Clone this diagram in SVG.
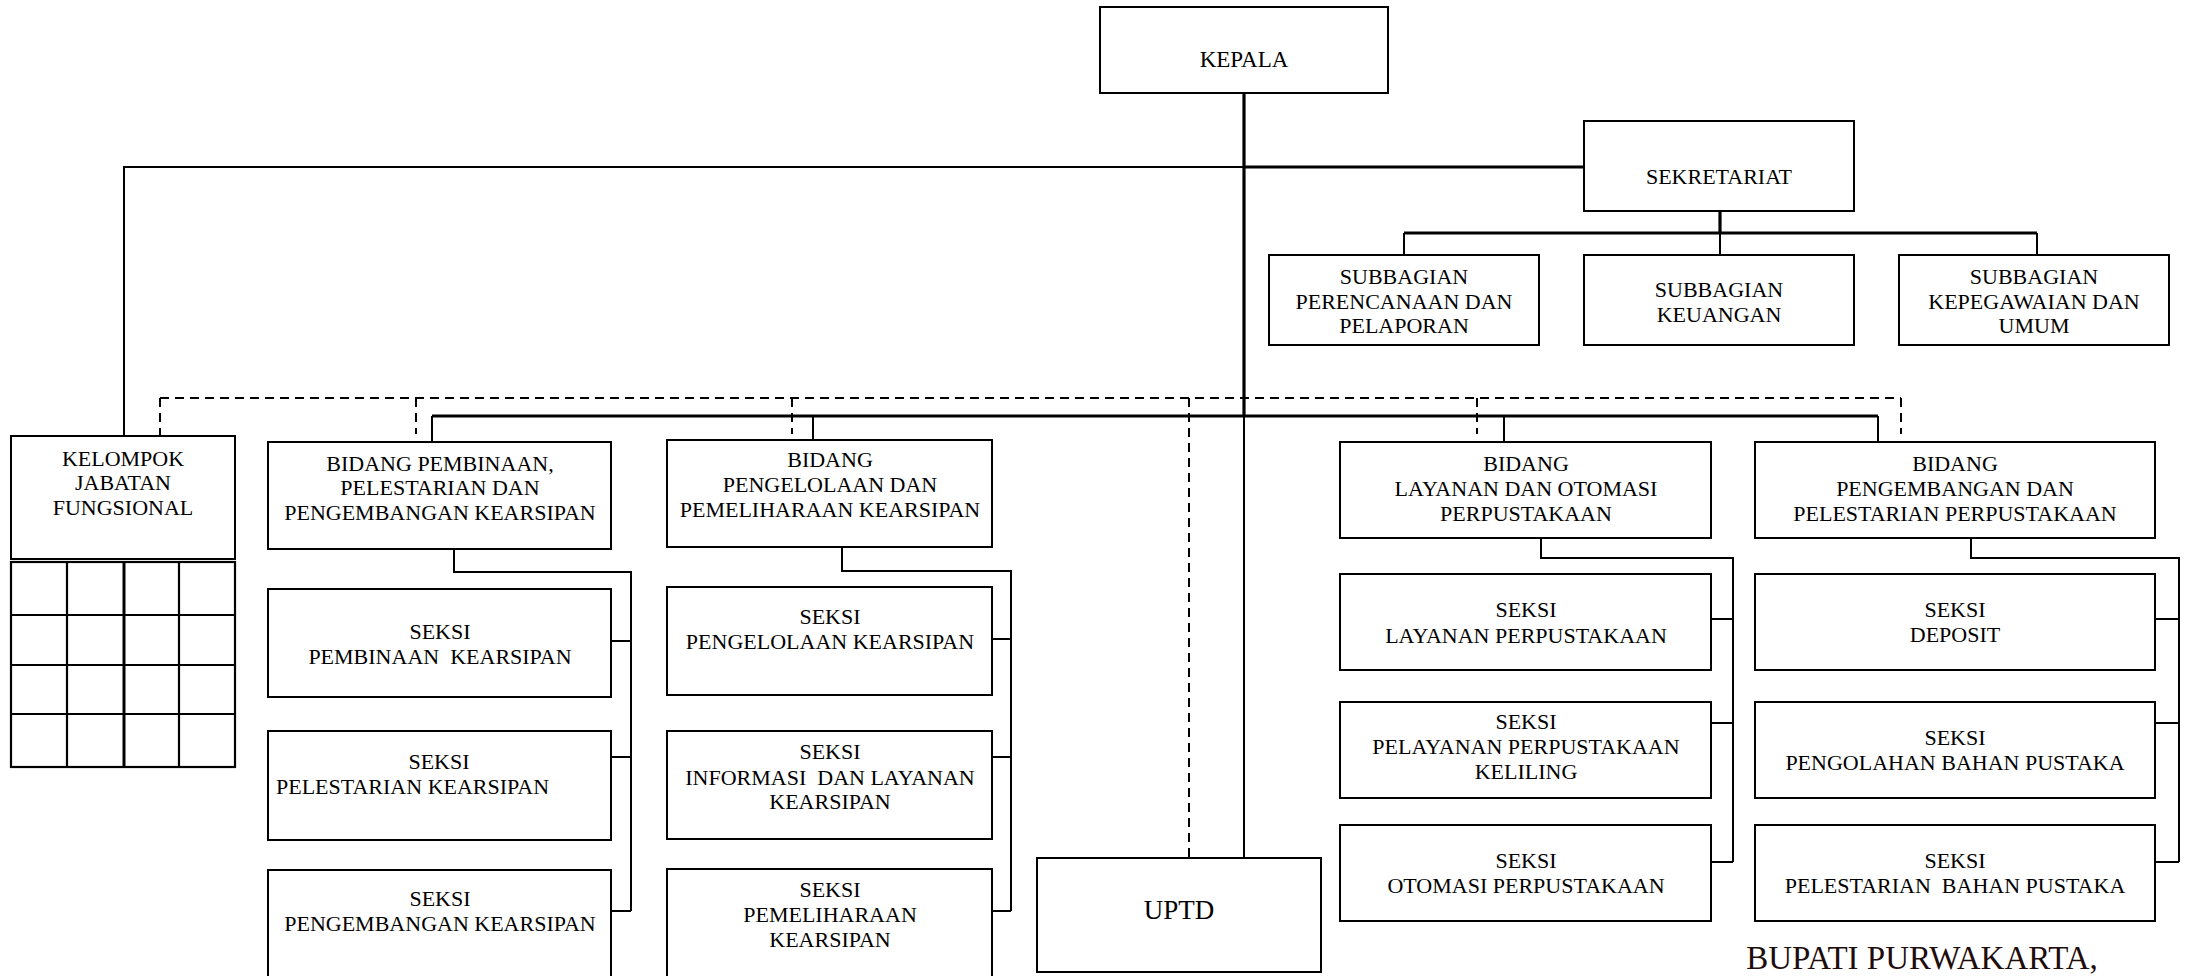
<svg xmlns="http://www.w3.org/2000/svg" width="2189" height="976" viewBox="0 0 2189 976">
<style>
  .box { fill: #ffffff; stroke: #000000; stroke-width: 2; }
  .t { font-family: "Liberation Serif", "Times New Roman", serif; font-size: 22px; fill: #000000; text-anchor: middle; }
  .ln { fill: none; stroke: #000000; stroke-width: 2; }
  .thick { fill: none; stroke: #000000; stroke-width: 3.2; }
  .dash { fill: none; stroke: #000000; stroke-width: 2; stroke-dasharray: 9 6; }
  .grid { fill: none; stroke: #000000; stroke-width: 2.2; }
</style>
<rect x="0" y="0" width="2189" height="976" fill="#ffffff"/>

<g id="connectors">
  <path class="dash" d="M160 398 H1901"/>
  <path class="dash" d="M160 398 V446"/>
  <path class="dash" d="M416 398 V434"/>
  <path class="dash" d="M792 398 V434"/>
  <path class="dash" d="M1189 398 V872"/>
  <path class="dash" d="M1477 398 V434"/>
  <path class="dash" d="M1901 398 V434"/>
  <path class="thick" d="M1244 94 V416"/>
  <path class="ln" d="M1244 416 V858"/>
  <path class="thick" d="M1244 167 H1584"/>
  <path class="ln" d="M124 436 V167 H1244"/>
  <path class="thick" d="M1720 211 V233"/>
  <path class="thick" d="M1404 233 H2037"/>
  <path class="ln" d="M1404 233 V255 M1720 233 V255 M2037 233 V255"/>
  <path class="thick" d="M432 416 H1878"/>
  <path class="ln" d="M432 416 V442 M813 416 V440 M1504 416 V442 M1878 416 V442"/>
  <path class="ln" d="M454 549 V572 H631 V911"/>
  <path class="ln" d="M611 641 H631 M611 757 H631 M611 911 H631"/>
  <path class="ln" d="M842 547 V571 H1011 V911"/>
  <path class="ln" d="M992 639 H1011 M992 757 H1011 M992 911 H1011"/>
  <path class="ln" d="M1541 538 V558 H1733 V862"/>
  <path class="ln" d="M1711 619 H1733 M1711 723 H1733 M1711 862 H1733"/>
  <path class="ln" d="M1971 538 V558 H2179 V862"/>
  <path class="ln" d="M2155 619 H2179 M2155 723 H2179 M2155 862 H2179"/>
</g>

<g id="kepala">
  <rect class="box" x="1100" y="7" width="288" height="86"/>
  <text class="t" x="1244" y="67" style="font-size:23px">KEPALA</text>
</g>

<g id="sekretariat">
  <rect class="box" x="1584" y="121" width="270" height="90"/>
  <text class="t" x="1719" y="184">SEKRETARIAT</text>
</g>

<g id="subbagian-perencanaan">
  <rect class="box" x="1269" y="255" width="270" height="90"/>
  <text class="t" x="1404" y="284">SUBBAGIAN</text>
  <text class="t" x="1404" y="309">PERENCANAAN DAN</text>
  <text class="t" x="1404" y="333">PELAPORAN</text>
</g>

<g id="subbagian-keuangan">
  <rect class="box" x="1584" y="255" width="270" height="90"/>
  <text class="t" x="1719" y="297">SUBBAGIAN</text>
  <text class="t" x="1719" y="322">KEUANGAN</text>
</g>

<g id="subbagian-kepegawaian">
  <rect class="box" x="1899" y="255" width="270" height="90"/>
  <text class="t" x="2034" y="284">SUBBAGIAN</text>
  <text class="t" x="2034" y="309">KEPEGAWAIAN DAN</text>
  <text class="t" x="2034" y="333">UMUM</text>
</g>

<g id="kelompok-jabatan-fungsional">
  <rect class="box" x="11" y="436" width="224" height="123"/>
  <text class="t" x="123" y="466">KELOMPOK</text>
  <text class="t" x="123" y="490">JABATAN</text>
  <text class="t" x="123" y="515">FUNGSIONAL</text>
  <rect class="grid" x="11" y="562" width="224" height="205"/>
  <path class="grid" d="M67 562 V767 M179 562 V767 M11 615 H235 M11 665 H235 M11 714 H235"/>
  <path fill="none" stroke="#000" stroke-width="3" d="M124 562 V767"/>
</g>

<g id="bidang-pembinaan">
  <rect class="box" x="268" y="442" width="343" height="107"/>
  <text class="t" x="440" y="471">BIDANG PEMBINAAN,</text>
  <text class="t" x="440" y="495">PELESTARIAN DAN</text>
  <text class="t" x="440" y="520">PENGEMBANGAN KEARSIPAN</text>
</g>
<g id="seksi-pembinaan-kearsipan">
  <rect class="box" x="268" y="589" width="343" height="108"/>
  <text class="t" x="440" y="639">SEKSI</text>
  <text class="t" x="440" y="664" xml:space="preserve">PEMBINAAN  KEARSIPAN</text>
</g>
<g id="seksi-pelestarian-kearsipan">
  <rect class="box" x="268" y="731" width="343" height="109"/>
  <text class="t" x="439" y="769">SEKSI</text>
  <text class="t" x="276" y="794" style="text-anchor:start">PELESTARIAN KEARSIPAN</text>
</g>
<g id="seksi-pengembangan-kearsipan">
  <rect class="box" x="268" y="870" width="343" height="120"/>
  <text class="t" x="440" y="906">SEKSI</text>
  <text class="t" x="440" y="931">PENGEMBANGAN KEARSIPAN</text>
</g>

<g id="bidang-pengelolaan">
  <rect class="box" x="667" y="440" width="325" height="107"/>
  <text class="t" x="830" y="467">BIDANG</text>
  <text class="t" x="830" y="492">PENGELOLAAN DAN</text>
  <text class="t" x="830" y="517">PEMELIHARAAN KEARSIPAN</text>
</g>
<g id="seksi-pengelolaan-kearsipan">
  <rect class="box" x="667" y="587" width="325" height="108"/>
  <text class="t" x="830" y="624">SEKSI</text>
  <text class="t" x="830" y="649">PENGELOLAAN KEARSIPAN</text>
</g>
<g id="seksi-informasi">
  <rect class="box" x="667" y="731" width="325" height="108"/>
  <text class="t" x="830" y="759">SEKSI</text>
  <text class="t" x="830" y="785" xml:space="preserve">INFORMASI  DAN LAYANAN</text>
  <text class="t" x="830" y="809">KEARSIPAN</text>
</g>
<g id="seksi-pemeliharaan">
  <rect class="box" x="667" y="869" width="325" height="120"/>
  <text class="t" x="830" y="897">SEKSI</text>
  <text class="t" x="830" y="922">PEMELIHARAAN</text>
  <text class="t" x="830" y="947">KEARSIPAN</text>
</g>

<g id="uptd">
  <rect class="box" x="1037" y="858" width="284" height="114"/>
  <text class="t" x="1179" y="919" style="font-size:27px">UPTD</text>
</g>

<g id="bidang-layanan">
  <rect class="box" x="1340" y="442" width="371" height="96"/>
  <text class="t" x="1526" y="471">BIDANG</text>
  <text class="t" x="1526" y="496">LAYANAN DAN OTOMASI</text>
  <text class="t" x="1526" y="521">PERPUSTAKAAN</text>
</g>
<g id="seksi-layanan-perpustakaan">
  <rect class="box" x="1340" y="574" width="371" height="96"/>
  <text class="t" x="1526" y="617">SEKSI</text>
  <text class="t" x="1526" y="643">LAYANAN PERPUSTAKAAN</text>
</g>
<g id="seksi-pelayanan-keliling">
  <rect class="box" x="1340" y="702" width="371" height="96"/>
  <text class="t" x="1526" y="729">SEKSI</text>
  <text class="t" x="1526" y="754">PELAYANAN PERPUSTAKAAN</text>
  <text class="t" x="1526" y="779">KELILING</text>
</g>
<g id="seksi-otomasi">
  <rect class="box" x="1340" y="825" width="371" height="96"/>
  <text class="t" x="1526" y="868">SEKSI</text>
  <text class="t" x="1526" y="893">OTOMASI PERPUSTAKAAN</text>
</g>

<g id="bidang-pengembangan-perpustakaan">
  <rect class="box" x="1755" y="442" width="400" height="96"/>
  <text class="t" x="1955" y="471">BIDANG</text>
  <text class="t" x="1955" y="496">PENGEMBANGAN DAN</text>
  <text class="t" x="1955" y="521">PELESTARIAN PERPUSTAKAAN</text>
</g>
<g id="seksi-deposit">
  <rect class="box" x="1755" y="574" width="400" height="96"/>
  <text class="t" x="1955" y="617">SEKSI</text>
  <text class="t" x="1955" y="642">DEPOSIT</text>
</g>
<g id="seksi-pengolahan">
  <rect class="box" x="1755" y="702" width="400" height="96"/>
  <text class="t" x="1955" y="745">SEKSI</text>
  <text class="t" x="1955" y="770">PENGOLAHAN BAHAN PUSTAKA</text>
</g>
<g id="seksi-pelestarian-bahan">
  <rect class="box" x="1755" y="825" width="400" height="96"/>
  <text class="t" x="1955" y="868">SEKSI</text>
  <text class="t" x="1955" y="893" xml:space="preserve">PELESTARIAN  BAHAN PUSTAKA</text>
</g>

<text x="1922" y="969" style="font-family:'Liberation Serif','Times New Roman',serif;font-size:33px;fill:#1e0d0d;text-anchor:middle">BUPATI PURWAKARTA,</text>
</svg>
